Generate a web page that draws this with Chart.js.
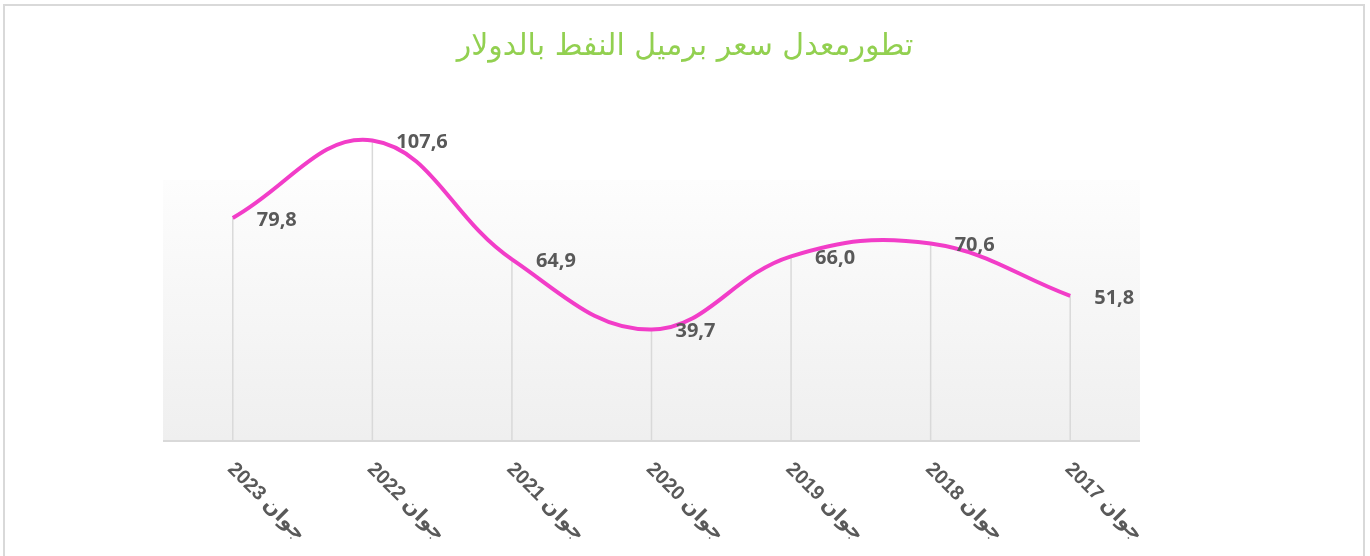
<!DOCTYPE html>
<html>
<head>
<meta charset="utf-8">
<script src="https://cdn.jsdelivr.net/npm/chart.js@4/dist/chart.umd.min.js"></script>
<style>
  html, body { margin: 0; padding: 0; background: #fff; overflow: hidden; }
  #frame { position: absolute; left: 3px; top: 4px; width: 1358px; height: 600px; border: 2px solid #d9d9d9; }
  #chart { position: absolute; left: 0; top: 0; }
</style>
</head>
<body>
<div id="frame"></div>
<canvas id="chart" width="1370" height="556"></canvas>
<script>
// Chart data
const chartTitle = 'تطورمعدل سعر برميل النفط بالدولار';
const categories = ['جوان 2023', 'جوان 2022', 'جوان 2021', 'جوان 2020', 'جوان 2019', 'جوان 2018', 'جوان 2017'];
const prices = [79.8, 107.6, 64.9, 39.7, 66.0, 70.6, 51.8];
const yMin = 0;
const yMax = 120;

const fmt = v => v.toFixed(1).replace('.', ',');

// title, background, drop lines, axis line and labels
const decorPlugin = {
    id: 'decor',
    beforeDatasetsDraw(chart) {
        const ctx = chart.ctx;
        const a = chart.chartArea;
        const x = chart.scales.x;
        const y = chart.scales.y;
        ctx.save();
        // title, centred on the whole canvas
        ctx.fillStyle = '#92d050';
        ctx.font = '30px "DejaVu Sans", sans-serif';
        ctx.textAlign = 'center';
        ctx.textBaseline = 'middle';
        ctx.fillText(chartTitle, chart.width / 2, 47);
        // plot area fill
        const bgTop = a.bottom - 260;
        const g = ctx.createLinearGradient(0, bgTop, 0, a.bottom);
        g.addColorStop(0, '#fdfdfd');
        g.addColorStop(1, '#efefef');
        ctx.fillStyle = g;
        ctx.fillRect(a.left, bgTop, a.right - a.left, a.bottom - bgTop);
        // drop lines
        ctx.strokeStyle = '#d9d9d9';
        ctx.lineWidth = 1.5;
        prices.forEach((v, i) => {
            const px = x.getPixelForValue(i);
            ctx.beginPath();
            ctx.moveTo(px, y.getPixelForValue(v));
            ctx.lineTo(px, a.bottom);
            ctx.stroke();
        });
        // axis line
        ctx.lineWidth = 2;
        ctx.beginPath();
        ctx.moveTo(a.left, a.bottom + 1);
        ctx.lineTo(a.right, a.bottom + 1);
        ctx.stroke();
        ctx.restore();
    },
    afterDatasetsDraw(chart) {
        const ctx = chart.ctx;
        const a = chart.chartArea;
        const x = chart.scales.x;
        const y = chart.scales.y;
        ctx.save();
        // value labels
        ctx.fillStyle = '#595959';
        ctx.font = 'bold 20px "Open Sans", sans-serif';
        ctx.textAlign = 'left';
        ctx.textBaseline = 'middle';
        prices.forEach((v, i) => {
            ctx.fillText(fmt(v), x.getPixelForValue(i) + 24, y.getPixelForValue(v) + 2);
        });
        // category labels, rotated 45 degrees clockwise
        ctx.font = 'bold 20px "Liberation Sans", "DejaVu Sans", sans-serif';
        ctx.direction = 'rtl';
        categories.forEach((c, i) => {
            ctx.save();
            ctx.translate(x.getPixelForValue(i) + 5, a.bottom + 19);
            ctx.rotate(Math.PI / 4);
            ctx.textAlign = 'left';
            ctx.textBaseline = 'top';
            ctx.fillText(c, 0, 0);
            ctx.restore();
        });
        ctx.restore();
    }
};

const ctx = document.getElementById('chart').getContext('2d');

new Chart(ctx, {
    type: 'line',
    data: {
        labels: categories,
        datasets: [{
            data: prices,
            borderColor: '#f23dc8',
            borderWidth: 4,
            tension: 0.4,
            pointRadius: 0,
            fill: false,
            clip: false
        }]
    },
    options: {
        responsive: false,
        animation: false,
        layout: {
            padding: { left: 163, right: 230, top: 106, bottom: 116 }
        },
        plugins: {
            legend: { display: false },
            tooltip: { enabled: false },
            title: { display: false }
        },
        scales: {
            x: { display: false, offset: true },
            y: { display: false, min: yMin, max: yMax }
        }
    },
    plugins: [decorPlugin]
});
</script>
</body>
</html>
